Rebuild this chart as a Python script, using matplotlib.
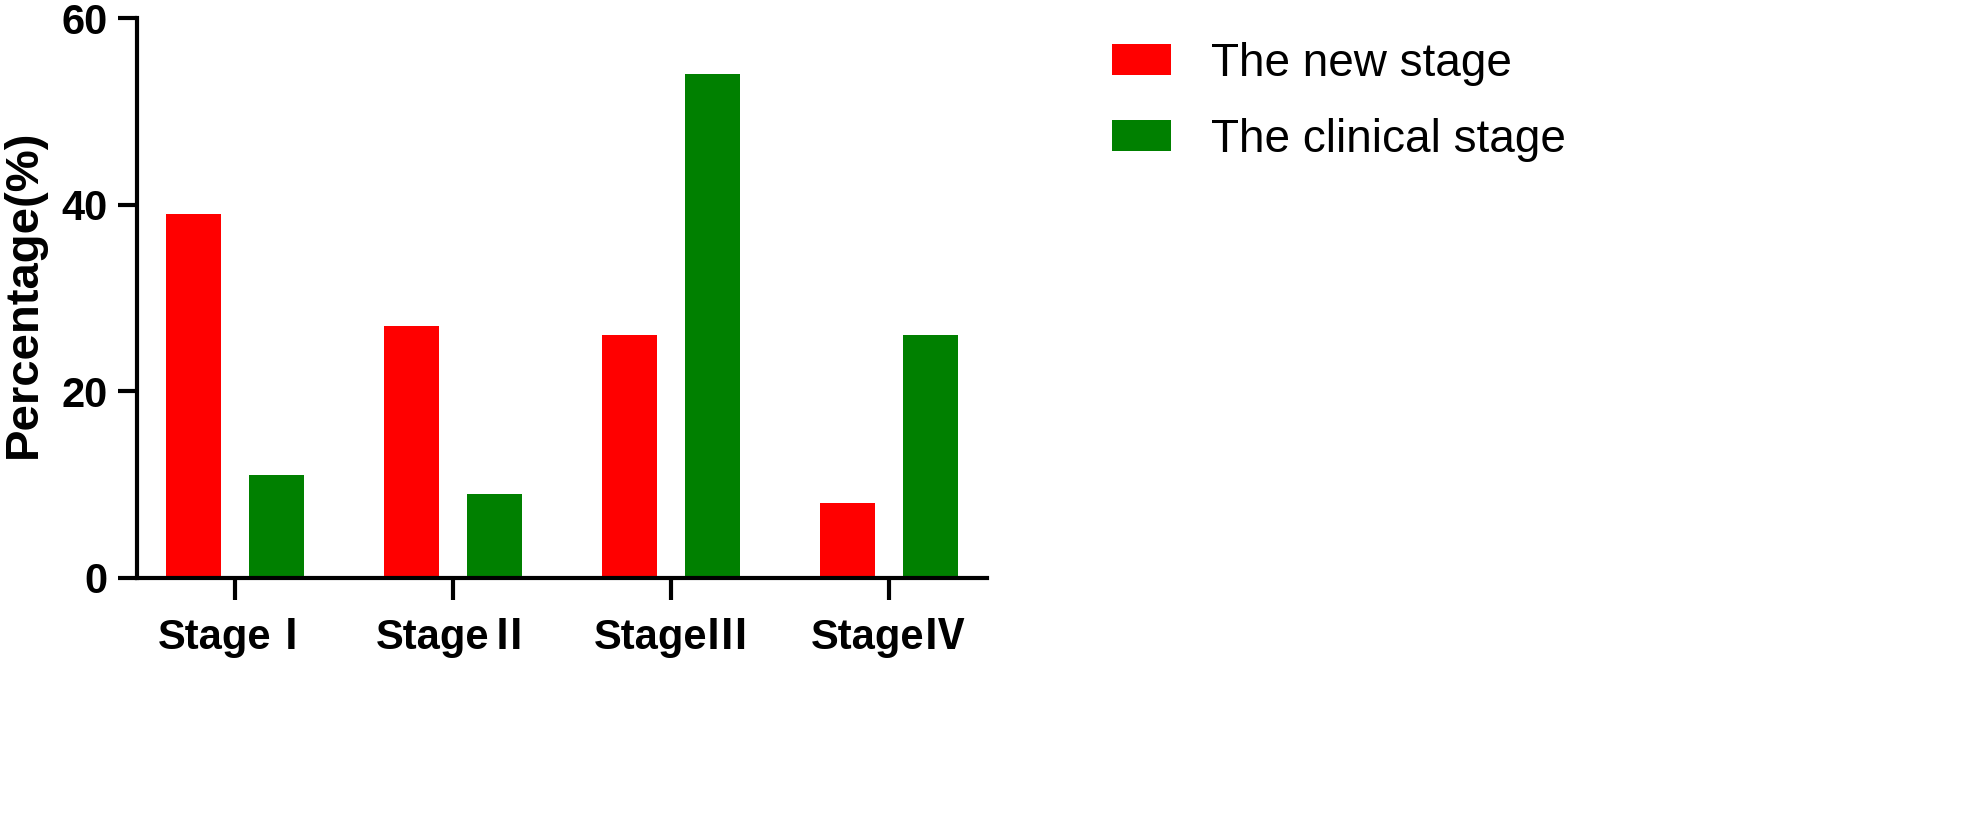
import matplotlib
matplotlib.use('Agg')
import matplotlib.pyplot as plt
import numpy as np

stages = ['StageⅠ', 'StageⅡ', 'StageⅢ', 'StageⅣ']
new_stage = [39, 27, 26, 8]
clinical_stage = [11, 9, 54, 26]
y_ticks = [0, 20, 40, 60]

fig = plt.figure(figsize=(19.83, 8.34), dpi=100)
ax = fig.add_axes([0.0691, 0.307, 0.4286, 0.671])

x = np.arange(len(stages))
w = 0.25
off = 0.19
ax.bar(x - off, new_stage, w, color='#ff0000', label='The new stage')
ax.bar(x + off, clinical_stage, w, color='#008000', label='The clinical stage')

ax.set_xlim(-0.45, 3.45)
ax.set_ylim(0, 60)
ax.set_yticks(y_ticks)
ax.set_xticks(x)
ax.set_xticklabels(stages, family=['Liberation Sans', 'Noto Sans CJK SC'],
                   fontweight='bold', fontsize=30)
for lab in ax.get_yticklabels():
    lab.set_fontweight('bold')
    lab.set_fontsize(30)
    lab.set_family('Liberation Sans')

for s in ['top', 'right']:
    ax.spines[s].set_visible(False)
for s in ['left', 'bottom']:
    ax.spines[s].set_linewidth(3)
ax.tick_params(axis='y', length=14, width=3, pad=7)
ax.tick_params(axis='x', length=16, width=3, pad=13)

ax.set_ylabel('Percentage(%)', fontsize=34, family='Liberation Sans',
              fontweight='bold')
ax.yaxis.set_label_coords(-0.107, 0.507)

fig.legend(loc='upper left', bbox_to_anchor=(0.561, 0.95), frameon=False,
           prop={'family': 'Liberation Sans', 'size': 33},
           handlelength=1.27, handleheight=0.65, handletextpad=0.87,
           labelspacing=0.7, borderpad=0, borderaxespad=0)

fig.savefig('out.png', dpi=100)
